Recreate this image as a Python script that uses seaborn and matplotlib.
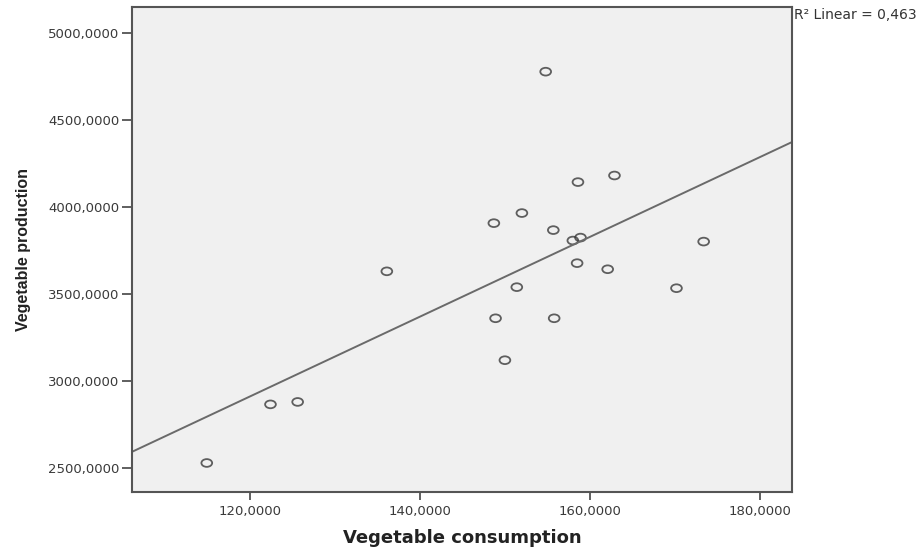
import numpy as np
import pandas as pd
import matplotlib
matplotlib.use("Agg")
import matplotlib.pyplot as plt
import seaborn as sns
from matplotlib.path import Path
from matplotlib.ticker import FuncFormatter

# Values
consumption = [154.8, 158.6, 162.9, 152.0, 148.7, 155.7, 158.0, 158.9, 173.4, 158.5,
               162.1, 151.4, 170.2, 148.9, 155.8, 150.0, 136.1, 122.4, 125.6, 114.9]
production = [4779, 4144, 4182, 3966, 3908, 3868, 3808, 3825, 3802, 3678,
              3643, 3540, 3534, 3361, 3361, 3120, 3631, 2866, 2880, 2529]
x_ticks = [120, 140, 160, 180]
y_ticks = [2500, 3000, 3500, 4000, 4500, 5000]
r2_label = "R² Linear = 0,463"

df = pd.DataFrame({"consumption": consumption, "production": production})

sns.set_style("white")
plt.rcParams["font.family"] = ["DejaVu Sans"]

# SPSS draws slightly flattened open circles
circ = Path.unit_circle()
ellipse = Path(circ.vertices * np.array([1.0, 0.72]), circ.codes)

fig = plt.figure(figsize=(9.22, 5.47), dpi=100)
ax = fig.add_axes([0.1432, 0.1005, 0.7158, 0.8858])
ax.set_facecolor("#f0f0f0")
ax.set_xlim(106.1, 183.8)
ax.set_ylim(2362, 5148)

sns.regplot(data=df, x="consumption", y="production", ax=ax, ci=None, truncate=False,
            marker=ellipse,
            scatter_kws=dict(s=60, facecolors="none", edgecolors="#3a3a3a", linewidths=1.3),
            line_kws=dict(color="#6a6a6a", linewidth=1.4))

ax.set_xticks(x_ticks)
ax.set_yticks(y_ticks)
fmt = FuncFormatter(lambda v, p: f"{v:.4f}".replace(".", ","))
ax.xaxis.set_major_formatter(fmt)
ax.yaxis.set_major_formatter(fmt)
ax.tick_params(axis="y", direction="out", length=7, width=1.2, color="#444444",
               labelsize=9.5, labelcolor="#3a3a3a", left=True, pad=2)
ax.tick_params(axis="x", direction="out", length=6, width=1.2, color="#444444",
               labelsize=9.5, labelcolor="#3a3a3a", bottom=True, pad=3)

for s in ax.spines.values():
    s.set_color("#555555")
    s.set_linewidth(1.5)

ax.set_xlabel("Vegetable consumption", fontsize=13, fontweight="bold", color="#222222", labelpad=8)
ax.set_ylabel("Vegetable production", fontsize=11.5, fontweight="bold", color="#222222",
              labelpad=12, family="Liberation Sans")

fig.text(794 / 922, 1 - 15 / 547, r2_label, fontsize=10, color="#333333", ha="left", va="center")

fig.savefig("out.png", dpi=100, facecolor="white")
